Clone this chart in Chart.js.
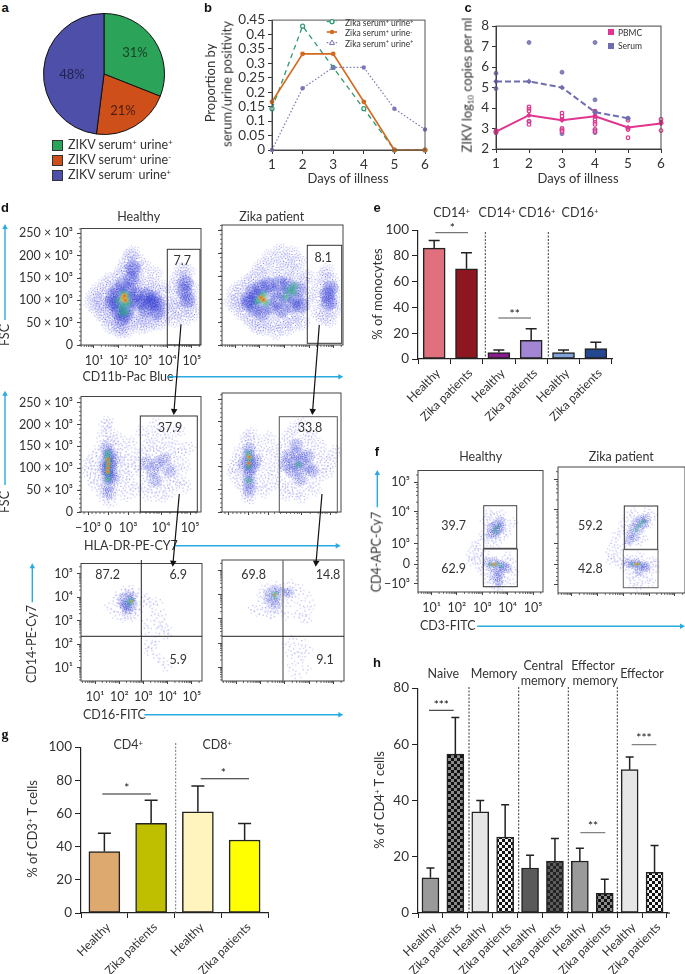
<!DOCTYPE html>
<html>
<head>
<meta charset="utf-8">
<script src="https://cdn.jsdelivr.net/npm/chart.js@4/dist/chart.umd.min.js"></script>
<style>
  html, body { margin: 0; padding: 0; background: #fff; }
  #page { position: relative; width: 685px; height: 974px; overflow: hidden; font-family: Lato, sans-serif; color: #333; }
  #page canvas { position: absolute; }
  #page svg { position: absolute; left: 0; top: 0; }
  .t { position: absolute; white-space: nowrap; line-height: 1; }
  .t sup { font-size: .62em; line-height: 0; vertical-align: baseline; position: relative; top: -.45em; }
  .t sub { font-size: .62em; line-height: 0; vertical-align: baseline; position: relative; top: .3em; }
  .swatch { position: absolute; width: 9px; height: 9px; border: 1px solid #333; }
</style>
</head>
<body>
<div id="page"></div>
<script>
// ---- data ----
// a
const pieLabels = ['ZIKV serum+ urine+', 'ZIKV serum+ urine-', 'ZIKV serum- urine+'];
const pieValues = [31, 21, 48];

// b
const days = [1, 2, 3, 4, 5, 6];
const propBoth = [0.143, 0.429, 0.286, 0.143, 0, 0];
const propSerum = [0.167, 0.333, 0.333, 0.167, 0, 0];
const propUrine = [0, 0.214, 0.286, 0.286, 0.143, 0.071];
const propTicks = [0, 0.05, 0.1, 0.15, 0.2, 0.25, 0.3, 0.35, 0.4, 0.45];

// c
const pbmcMean = [2.85, 3.65, 3.4, 3.6, 3.05, 3.25];
const serumMean = [5.3, 5.3, 5.0, 3.8, 3.5];
const pbmcDays = [1, 1, 2, 2, 2, 2, 2, 3, 3, 3, 3, 3, 3, 4, 4, 4, 4, 4, 4, 4, 5, 5, 5, 5, 6, 6, 6];
const pbmcRaw = [2.8, 2.9, 4.05, 3.95, 3.85, 3.35, 3.2, 3.75, 3.6, 3.45, 3.0, 2.9, 2.85, 3.85, 3.6, 3.45, 3.3, 3.2, 2.95, 2.85, 3.4, 3.0, 2.95, 2.55, 3.45, 3.3, 2.9];
const serumDays = [1, 1, 1, 2, 2, 3, 3, 3, 4, 4, 4, 4, 4, 5];
const serumRaw = [5.7, 4.95, 2.8, 7.2, 3.35, 5.75, 2.95, 2.75, 7.2, 4.4, 3.8, 2.95, 2.8, 3.5];

// e
const monoCats = ['Healthy', 'Zika patients', 'Healthy', 'Zika patients', 'Healthy', 'Zika patients'];
const monoValues = [86, 70, 5, 14.5, 5, 8];
const monoErrors = [92, 82.5, 7, 23.5, 7, 13];

// g
const cd3Cats = ['Healthy', 'Zika patients', 'Healthy', 'Zika patients'];
const cd3Values = [37, 54, 61, 44];
const cd3Errors = [48, 68, 76.5, 54];

// h
const cd4Cats = ['Healthy', 'Zika patients', 'Healthy', 'Zika patients', 'Healthy', 'Zika patients', 'Healthy', 'Zika patients', 'Healthy', 'Zika patients'];
const cd4Values = [12.5, 56.5, 36, 27, 16, 18.5, 18.5, 7, 51, 14.5];
const cd4Errors = [16, 69.5, 40, 38.5, 20.5, 26.5, 23, 12, 55.5, 24];

// flow axes (log decades, or biexponential display units where there is a 0)
const decadeTicks = [1, 2, 3, 4, 5];
const decadeLabels = ['10¹', '10²', '10³', '10⁴', '10⁵'];
const fscTicks = [0, 50, 100, 150, 200, 250];
const fscLabels = ['0', '50 × 10³', '100 × 10³', '150 × 10³', '200 × 10³', '250 × 10³'];
const hlaTicks = [-1, 0, 1, 2.65, 4.1];
const hlaLabels = ['−10³', '0', '10³', '10⁴', '10⁵'];
const hlaMinor = [-1.2, -0.8, -0.6, -0.4, -0.2, 0.2, 0.4, 0.6, 0.8, 1.3, 1.6, 1.9, 2.1, 2.3, 2.45, 2.55, 3.1, 3.5, 3.7, 3.85, 3.95, 4.4];
const cd4Ticks = [-1, 0, 1.05, 2.7, 4.23];
const cd4Labels = ['−10³', '0', '10³', '10⁴', '10⁵'];
const cd4Minor = [-0.8, -0.6, -0.4, -0.2, 0.2, 0.4, 0.6, 0.8, 1.5, 1.85, 2.1, 2.3, 2.45, 2.6, 3.2, 3.55, 3.75, 3.95, 4.1, 4.6];

// d, top row
const cd11bHealthySparse = [[0.9,95],[1.0,110],[1.1,80],[1.2,125],[1.25,100],[1.3,70],[1.35,90],[1.45,135],[1.5,60],[1.5,112],[1.6,82],[1.65,45],[1.7,145],[1.75,100],[1.8,62],[1.85,125],[1.9,38],[1.95,80],[2.0,155],[2.05,50],[2.1,30],[2.15,170],[2.2,42],[2.3,185],[2.35,35],[2.4,160],[2.45,200],[2.5,145],[2.5,48],[2.55,178],[2.6,205],[2.65,130],[2.7,165],[2.7,55],[2.75,190],[2.8,150],[2.85,40],[2.9,125],[2.95,70],[3.0,175],[3.05,60],[3.1,110],[3.15,45],[3.2,140],[3.3,85],[3.35,55],[3.4,125],[3.45,70],[3.5,160],[3.55,100],[3.6,50],[3.7,130],[3.75,80],[3.8,60],[3.9,115],[3.95,95],[4.1,70],[4.2,130],[4.25,90],[4.3,55],[4.4,150],[4.45,105],[4.5,75],[4.55,170],[4.6,130],[4.65,90],[4.7,150],[4.75,60],[4.8,115],[4.85,165],[4.9,85],[4.95,130],[5.0,100],[5.05,70]];
const cd11bHealthyDense = [[1.7,95],[1.8,110],[1.9,90],[2.0,75],[2.0,120],[2.1,60],[2.2,135],[2.3,65],[2.4,125],[2.4,80],[2.5,100],[2.55,150],[2.6,170],[2.7,115],[2.8,95],[3.0,95],[3.1,80],[3.2,110],[3.3,95],[3.45,105],[3.6,90],[3.55,75],[4.7,120],[4.8,100],[4.75,140]];
const cd11bHealthyHot = [[2.0,100],[2.1,85],[2.15,72],[2.2,115],[2.25,90],[2.35,110],[2.3,75],[2.4,95]];
const cd11bHealthyCore = [[2.2,105],[2.28,100],[2.25,110]];
const cd11bZikaSparse = [[0.85,95],[1.0,115],[1.05,80],[1.15,100],[1.25,125],[1.3,70],[1.4,90],[1.5,135],[1.55,60],[1.6,110],[1.7,145],[1.75,50],[1.8,85],[1.9,160],[1.95,40],[2.0,125],[2.1,175],[2.15,35],[2.25,60],[2.3,150],[2.4,190],[2.45,45],[2.5,130],[2.6,170],[2.65,30],[2.7,70],[2.8,205],[2.85,150],[2.9,50],[3.0,185],[3.05,35],[3.1,140],[3.2,170],[3.25,60],[3.3,200],[3.4,45],[3.45,155],[3.55,70],[3.6,180],[3.7,135],[3.75,50],[3.85,90],[3.9,150],[4.0,110],[4.35,70],[4.4,130],[4.45,100],[4.55,60],[4.6,150],[4.65,85],[4.7,120],[4.75,160],[4.8,55],[4.85,100],[4.9,140],[4.95,75],[5.0,115],[5.05,90]];
const cd11bZikaDense = [[1.5,100],[1.6,90],[1.7,115],[1.8,80],[1.9,105],[2.0,125],[2.1,70],[2.3,130],[2.4,85],[2.55,115],[2.7,95],[2.8,135],[2.9,75],[3.0,110],[3.15,130],[3.3,85],[3.45,100],[3.6,120],[3.65,85],[4.75,110],[4.8,90],[4.85,125]];
const cd11bZikaHot = [[1.9,95],[2.05,100],[2.15,110],[2.25,92],[3.2,120],[3.35,115],[3.4,128],[3.05,105]];
const cd11bZikaCore = [[2.05,103],[2.15,98]];

// d, middle row
const hlaHealthySparse = [[-1.0,95],[-0.9,110],[-0.8,75],[-0.7,125],[-0.6,60],[-0.5,100],[-0.4,140],[-0.35,85],[-0.3,50],[-0.25,170],[-0.2,115],[-0.15,35],[-0.1,195],[-0.05,155],[0,205],[0.05,180],[0.1,25],[0.15,160],[0.2,130],[0.25,45],[0.3,95],[0.35,150],[0.4,70],[0.5,120],[0.55,170],[0.6,55],[0.7,100],[0.8,140],[0.85,80],[0.9,40],[1.0,115],[1.1,65],[1.15,160],[1.25,95],[1.35,130],[1.45,50],[1.5,105],[1.7,185],[1.75,130],[1.8,60],[1.85,90],[1.95,150],[2.0,40],[2.05,115],[2.1,170],[2.2,75],[2.25,135],[2.3,200],[2.35,55],[2.4,100],[2.5,155],[2.55,85],[2.6,35],[2.65,120],[2.7,180],[2.8,65],[2.85,140],[2.9,100],[3.0,45],[3.05,165],[3.1,85],[3.2,125],[3.3,60],[3.35,150],[3.45,100],[3.5,185],[3.6,75],[3.65,130],[3.8,105],[3.9,60],[4.0,145]];
const hlaHealthyDense = [[0,45],[0,60],[0.05,75],[-0.05,85],[0,95],[0.05,105],[-0.05,115],[0,125],[0.05,135],[-0.05,145],[0.1,90],[0.15,110],[-0.15,100],[0.25,120],[0.3,80],[1.9,110],[2.2,95],[2.5,110],[2.8,120],[3.1,95],[2.4,70]];
const hlaHealthyHot = [[0,90],[0,105],[0.02,115],[-0.02,125],[0,75],[0,135]];
const hlaHealthyCore = [[0,100],[0.02,110],[0,120],[-0.02,92]];
const hlaZikaSparse = [[-0.8,100],[-0.7,85],[-0.6,115],[-0.5,70],[-0.45,130],[-0.3,55],[-0.25,95],[-0.2,150],[-0.1,40],[-0.05,165],[0,30],[0.1,175],[0.15,55],[0.25,130],[0.3,85],[0.4,155],[0.5,65],[0.6,110],[0.7,45],[0.8,135],[0.9,85],[1.0,165],[1.1,60],[1.2,110],[1.3,140],[1.4,85],[1.6,125],[1.65,65],[1.75,150],[1.8,40],[1.9,100],[2.0,170],[2.05,55],[2.15,130],[2.2,85],[2.3,185],[2.35,40],[2.45,150],[2.5,70],[2.6,195],[2.7,35],[2.75,125],[2.85,165],[2.95,60],[3.05,140],[3.1,90],[3.2,170],[3.3,50],[3.4,120],[3.5,75],[3.55,150],[3.7,100],[3.85,125],[4.0,90],[4.2,110],[4.4,135]];
const hlaZikaDense = [[0,50],[0.05,65],[-0.05,80],[0.05,95],[0,110],[-0.05,125],[0.05,140],[0.2,100],[0.3,115],[-0.2,105],[1.8,105],[2.0,125],[2.15,90],[2.3,110],[2.45,130],[2.5,95],[2.6,75],[2.7,115],[2.9,100],[3.0,125],[3.2,90],[2.35,150]];
const hlaZikaHot = [[0,70],[0,100],[0.03,118],[-0.02,130],[2.5,105]];
const hlaZikaCore = [[0,108],[0.02,122]];

// d, bottom row
const cd16HealthySparse = [[1.55,3.65],[1.8,3.3],[1.85,3.8],[1.95,4.1],[2.0,3.45],[2.05,3.15],[2.1,4.0],[2.15,3.6],[2.2,3.3],[2.25,4.25],[2.3,3.15],[2.35,3.45],[2.45,4.3],[2.5,3.2],[2.6,3.35],[2.7,4.2],[2.75,3.4],[2.85,3.6],[3.0,3.9],[3.15,4.0],[3.2,3.75],[3.4,3.6],[3.5,3.2],[3.55,2.8],[3.6,3.85],[3.7,2.55],[3.75,3.3],[3.85,2.9],[3.95,2.6],[3.1,2.95],[3.2,2.6],[3.15,1.95],[3.25,1.7],[3.4,1.9],[3.5,2.2],[3.6,1.45],[3.75,1.25],[3.95,1.05],[4.0,2.35]];
const cd16HealthyDense = [[2.1,3.8],[2.2,4.0],[2.25,3.55],[2.3,3.7],[2.35,3.4],[2.4,3.95],[2.45,3.6],[2.5,3.8],[2.55,4.05],[2.6,3.65],[2.35,4.1],[2.2,3.7]];
const cd16HealthyHot = [[2.35,3.8],[2.45,3.9],[2.42,3.7],[2.55,3.85]];
const cd16HealthyCore = [[2.5,3.82]];
const cd16ZikaSparse = [[1.65,3.45],[1.9,3.3],[2.0,3.7],[2.05,4.1],[2.15,3.25],[2.2,3.55],[2.25,4.3],[2.35,3.15],[2.4,3.5],[2.55,3.2],[2.65,3.4],[2.7,4.4],[2.8,3.3],[2.95,4.35],[3.05,3.15],[3.1,4.2],[3.2,3.7],[3.3,4.4],[3.4,4.0],[3.5,3.2],[3.55,4.25],[3.65,3.65],[3.75,3.05],[3.85,4.0],[3.9,3.35],[3.95,2.95],[4.05,3.6],[3.1,1.9],[3.2,1.5],[3.25,1.05],[3.35,2.1],[3.45,1.7],[3.5,0.7],[3.6,1.25],[3.7,2.0],[3.75,1.5],[3.85,0.9],[3.95,1.75]];
const cd16ZikaDense = [[2.25,3.9],[2.35,4.1],[2.4,3.65],[2.5,3.85],[2.55,4.2],[2.6,3.55],[2.65,3.95],[2.7,4.15],[2.75,3.75],[2.9,4.1],[3.05,4.05],[3.2,4.1]];
const cd16ZikaHot = [[2.5,4.02],[2.6,3.9],[2.65,4.08]];
const cd16ZikaCore = [[2.58,4.0]];

// f
const cd3HealthySparse = [[2.5,0.5],[2.6,0.15],[2.65,0.85],[2.75,0.35],[2.8,1.0],[2.85,-0.1],[2.9,0.65],[3.0,0.2],[3.0,1.5],[3.05,-0.35],[3.1,0.45],[3.1,2.3],[3.15,1.3],[3.2,1.9],[3.25,-0.7],[3.25,2.6],[3.3,1.15],[3.3,-1.05],[3.35,2.2],[3.4,-0.5],[3.45,1.4],[3.5,-1.15],[3.5,2.5],[3.6,-0.85],[3.6,1.2],[3.65,-0.4],[3.7,2.6],[3.75,-1.1],[3.8,1.4],[3.85,2.2],[3.9,-0.75],[3.95,0.4],[4.0,1.7],[4.0,-0.2],[4.1,-0.9],[4.15,0.15],[4.2,2.1],[4.25,-0.35]];
const cd3HealthyDense = [[3.3,1.6],[3.4,1.9],[3.5,1.55],[3.55,2.1],[3.65,1.75],[3.7,2.2],[3.75,1.9],[3.2,0.05],[3.35,-0.15],[3.5,0.15],[3.6,-0.3],[3.7,0.05],[3.85,-0.1],[3.95,-0.2],[3.55,-0.65],[3.7,-0.5],[3.65,-0.85]];
const cd3HealthyHot = [[3.5,1.8],[3.6,1.95],[3.55,1.65],[3.3,0],[3.45,-0.05],[3.6,0.02],[3.75,-0.1]];
const cd3HealthyCore = [[3.4,0],[3.52,0.02]];
const cd3ZikaSparse = [[2.45,0.6],[2.55,0.2],[2.6,1.0],[2.7,0.4],[2.75,1.4],[2.8,0.05],[2.85,0.75],[2.95,1.65],[3.0,0.25],[3.05,2.05],[3.05,-0.2],[3.15,1.05],[3.2,2.4],[3.25,-0.6],[3.3,0.3],[3.35,-0.95],[3.4,2.6],[3.5,-0.5],[3.55,1.1],[3.6,-1.05],[3.65,0.35],[3.75,-0.75],[3.8,1.3],[3.9,2.6],[3.95,-0.45],[4.0,2.0],[4.05,0.2],[4.1,-0.85],[4.15,2.35],[4.2,-0.2],[4.25,0.05]];
const cd3ZikaDense = [[3.2,1.2],[3.3,1.5],[3.35,1.8],[3.45,1.4],[3.5,2.05],[3.6,1.75],[3.7,2.25],[3.8,1.95],[3.85,2.3],[3.2,0.05],[3.35,-0.05],[3.5,0.1],[3.65,-0.1],[3.8,-0.05],[3.9,-0.15],[3.6,-0.4]];
const cd3ZikaHot = [[3.5,1.7],[3.6,1.9],[3.7,2.05],[3.8,2.15],[3.35,0],[3.6,0]];
const cd3ZikaCore = [[3.48,0],[3.55,0.02]];

// ---- helpers ----
const FONT = 'Lato, sans-serif';
const page = document.getElementById('page');
const INK = '#333';

function txt(html, x, y, opts) {
  opts = opts || {};
  const el = document.createElement('div');
  el.className = 't';
  el.innerHTML = html;
  el.style.left = x + 'px';
  el.style.top = y + 'px';
  el.style.fontSize = (opts.size || 12.5) + 'px';
  if (opts.color) el.style.color = opts.color;
  if (opts.weight) el.style.fontWeight = opts.weight;
  if (opts.family) el.style.fontFamily = opts.family;
  const dx = opts.left ? '0' : '-50%';
  el.style.transform = `translate(${dx},-50%)` + (opts.rot ? ` rotate(${opts.rot}deg)` : '');
  page.appendChild(el);
}

function newCanvas(left, top, w, h) {
  const c = document.createElement('canvas');
  c.width = w;
  c.height = h;
  c.style.left = left + 'px';
  c.style.top = top + 'px';
  c.style.width = w + 'px';
  c.style.height = h + 'px';
  page.appendChild(c);
  return c;
}

function toXY(xs, ys) {
  return ys.map((y, i) => ({ x: xs[i], y: y }));
}
function pairs(list) {
  return list.map(p => ({ x: p[0], y: p[1] }));
}

// fixed plot box: canvas is grown around it, axes are forced to the pad size
function plotChart(box, pad, config) {
  const c = newCanvas(box.x - pad.l, box.y - pad.t, box.w + pad.l + pad.r, box.h + pad.t + pad.b);
  config.options = config.options || {};
  config.options.responsive = false;
  config.options.animation = false;
  config.options.layout = { padding: { top: pad.t, right: pad.r, left: 0, bottom: 0 } };
  config.options.scales.x.afterFit = s => { s.height = pad.b; };
  config.options.scales.y.afterFit = s => { s.width = pad.l; };
  // Chart.js paints the first dataset last, we list them bottom to top
  config.data.datasets.reverse();
  return new Chart(c, config);
}

function fixedTicks(values) {
  return scale => { scale.ticks = values.map(v => ({ value: v })); };
}

const framePlugin = color => ({
  id: 'frame',
  afterDraw(chart) {
    const a = chart.chartArea, g = chart.ctx;
    g.save();
    g.strokeStyle = color;
    g.lineWidth = 1;
    g.strokeRect(a.left, a.top, a.right - a.left, a.bottom - a.top);
    g.restore();
  }
});

const errorPlugin = (values, errors, cap) => ({
  id: 'errs',
  afterDatasetsDraw(chart) {
    const g = chart.ctx, sx = chart.scales.x, sy = chart.scales.y;
    g.save();
    g.strokeStyle = '#222';
    g.lineWidth = 1.5;
    values.forEach((v, i) => {
      const x = sx.getPixelForValue(i), y0 = sy.getPixelForValue(v), y1 = sy.getPixelForValue(errors[i]);
      g.beginPath();
      g.moveTo(x, y0); g.lineTo(x, y1);
      g.moveTo(x - cap / 2, y1); g.lineTo(x + cap / 2, y1);
      g.stroke();
    });
    g.restore();
  }
});

function lineAxis(min, max, ticks, labelOf, size) {
  return {
    type: 'linear', min: min, max: max,
    afterBuildTicks: fixedTicks(ticks),
    grid: { drawOnChartArea: false, tickLength: 4, color: INK },
    border: { color: INK },
    ticks: { autoSkip: false, maxRotation: 0, color: INK, padding: 3, font: { family: FONT, size: size || 13.5 }, callback: labelOf }
  };
}

function barChart(box, cats, values, errors, fills, yMax, yStep, cap, thick) {
  plotChart(box, { l: 45, t: 10, r: 40, b: 84 }, {
    type: 'bar',
    data: { labels: cats, datasets: [{ data: values, backgroundColor: fills, borderColor: '#222', borderWidth: 1.5, borderSkipped: false, barThickness: thick }] },
    options: {
      plugins: { legend: { display: false }, tooltip: { enabled: false } },
      scales: {
        x: {
          grid: { drawOnChartArea: false, tickLength: 5, color: '#222' }, border: { color: '#222', width: 1.2 },
          ticks: { minRotation: 45, maxRotation: 45, autoSkip: false, color: INK, padding: 2, labelOffset: 4, font: { family: FONT, size: 12 } }
        },
        y: {
          min: 0, max: yMax,
          grid: { drawOnChartArea: false, tickLength: 6, color: '#222' }, border: { color: '#222', width: 1.2 },
          ticks: { stepSize: yStep, color: INK, padding: 3, font: { family: FONT, size: 13.5 } }
        }
      }
    },
    plugins: [errorPlugin(values, errors, cap)]
  });
}

// small marks along a flow axis
function minorTicks(scale, values, horizontal) {
  const g = scale.ctx;
  g.save();
  g.strokeStyle = '#444';
  g.lineWidth = 0.8;
  values.forEach(v => {
    if (v < scale.min || v > scale.max) return;
    const p = scale.getPixelForValue(v);
    g.beginPath();
    if (horizontal) { g.moveTo(p, scale.top); g.lineTo(p, scale.top + 2); }
    else { g.moveTo(scale.right, p); g.lineTo(scale.right - 2, p); }
    g.stroke();
  });
  g.restore();
}
const logMinor = [];
[0, 1, 2, 3, 4, 5].forEach(d => [2, 3, 4, 5, 6, 7, 8, 9].forEach(m => logMinor.push(d + Math.log10(m))));
const fscMinor = [];
for (let v = 0; v <= 260; v += 10) fscMinor.push(v);

// marker textures for the density plots: a fixed speckle of 1px dots around the point
function speckle(r, count, rgb, alpha) {
  const c = document.createElement('canvas');
  c.width = c.height = 2 * r + 2;
  const g = c.getContext('2d');
  for (let i = 1; i <= count; i++) {
    const rho = r * Math.sqrt(i / count), th = i * 2.39996;
    g.fillStyle = `rgba(${rgb},${alpha * (1 - 0.6 * rho / r)})`;
    g.fillRect(r + 1 + rho * Math.cos(th), r + 1 + rho * Math.sin(th), 1, 1);
  }
  return c;
}
function glow(r, stops) {
  const c = document.createElement('canvas');
  c.width = c.height = 2 * r + 2;
  const g = c.getContext('2d');
  const grad = g.createRadialGradient(r + 1, r + 1, 0, r + 1, r + 1, r);
  stops.forEach((s, i) => grad.addColorStop(i / (stops.length - 1), s));
  g.fillStyle = grad;
  g.fillRect(0, 0, c.width, c.height);
  return c;
}

function flowChart(o) {
  const spin = ctx => ctx.dataIndex * 137;
  const layer = (list, sprite) => ({ data: pairs(list), pointStyle: sprite, pointRadius: 3, pointRotation: spin, pointBorderWidth: 0 });
  const sets = [
    layer(o.sparse, speckle(o.puff, o.puffDots, '60,60,225', 0.9)),
    layer(o.dense, speckle(o.puff, o.puffDots * 3, '30,40,205', 1)),
    layer(o.hot, glow(Math.max(o.puff - 2, 3), ['rgba(60,190,90,0.6)', 'rgba(40,170,140,0.35)', 'rgba(50,120,200,0)'])),
    layer(o.core, glow(Math.max(o.puff - 4, 2), ['rgba(235,60,25,0.95)', 'rgba(245,170,40,0.65)', 'rgba(120,200,80,0)']))
  ];
  plotChart(o.box, { l: 70, t: 8, r: 12, b: 26 }, {
    type: 'scatter',
    data: { datasets: sets },
    options: {
      plugins: { legend: { display: false }, tooltip: { enabled: false } },
      scales: {
        x: {
          type: 'linear', min: o.xMin, max: o.xMax, afterBuildTicks: fixedTicks(o.xTicks),
          grid: { drawOnChartArea: false, tickLength: 3, color: '#444' }, border: { display: false },
          ticks: { display: !!o.showX, autoSkip: false, maxRotation: 0, color: INK, padding: 5, font: { family: FONT, size: 12.5 },
            callback: v => o.xLabels[o.xTicks.indexOf(v)] }
        },
        y: {
          type: 'linear', min: o.yMin, max: o.yMax, afterBuildTicks: fixedTicks(o.yTicks),
          grid: { drawOnChartArea: false, tickLength: 4, color: '#444' }, border: { display: false },
          ticks: { display: !!o.showY, autoSkip: false, color: INK, padding: 4, font: { family: FONT, size: 12.5 },
            callback: v => o.yLabels[o.yTicks.indexOf(v)] }
        }
      }
    },
    plugins: [framePlugin('#444'), {
      id: 'minor',
      afterDraw(chart) {
        if (o.xMinor) minorTicks(chart.scales.x, o.xMinor, true);
        if (o.yMinor) minorTicks(chart.scales.y, o.yMinor, false);
      }
    }]
  });
}

function checks(a, b, size) {
  const c = document.createElement('canvas');
  c.width = c.height = size * 2;
  const g = c.getContext('2d');
  g.fillStyle = a; g.fillRect(0, 0, size * 2, size * 2);
  g.fillStyle = b; g.fillRect(0, 0, size, size); g.fillRect(size, size, size, size);
  return g.createPattern(c, 'repeat');
}

// ---- a ----
new Chart(newCanvas(43, 13, 122, 122), {
  type: 'pie',
  data: { labels: pieLabels, datasets: [{ data: pieValues, backgroundColor: ['#2BA358', '#CF4F1A', '#4D4FA8'], borderColor: '#111', borderWidth: 1 }] },
  options: { responsive: false, animation: false, plugins: { legend: { display: false }, tooltip: { enabled: false } } }
});
txt('31%', 135, 52, { size: 13, color: '#17432a' });
txt('21%', 123, 110, { size: 13, color: '#4a1d0c' });
txt('48%', 72, 74, { size: 13, color: '#22234f' });
[['#2BA358', 'ZIKV serum<sup>+</sup> urine<sup>+</sup>', 144.5], ['#CF4F1A', 'ZIKV serum<sup>+</sup> urine<sup>-</sup>', 159.5], ['#4D4FA8', 'ZIKV serum<sup>-</sup> urine<sup>+</sup>', 174.5]].forEach(r => {
  const s = document.createElement('div');
  s.className = 'swatch';
  s.style.left = '52px';
  s.style.top = (r[2] - 5) + 'px';
  s.style.background = r[0];
  page.appendChild(s);
  txt(r[1], 68, r[2], { left: true, size: 12.5 });
});

// ---- b ----
plotChart({ x: 272, y: 17, w: 153, h: 133 }, { l: 44, t: 8, r: 8, b: 24 }, {
  type: 'scatter',
  data: { datasets: [
    { data: toXY(days, propBoth), showLine: true, clip: false, borderColor: '#2E9B73', borderWidth: 1.3, borderDash: [5, 4], pointRadius: 2, pointBackgroundColor: '#fff', pointBorderColor: '#2E9B73', pointBorderWidth: 1.2 },
    { data: toXY(days, propUrine), showLine: true, clip: false, borderColor: '#7B77B8', borderWidth: 1.2, borderDash: [1.5, 2], pointRadius: 2.2, pointBackgroundColor: '#7B77B8', pointBorderWidth: 0 },
    { data: toXY(days, propSerum), showLine: true, clip: false, borderColor: '#D2691E', borderWidth: 1.6, pointRadius: 2.4, pointBackgroundColor: '#D2691E', pointBorderWidth: 0 }
  ] },
  options: {
    plugins: { legend: { display: false }, tooltip: { enabled: false } },
    scales: {
      x: lineAxis(1, 6, days, v => v),
      y: lineAxis(0, 0.45, propTicks, v => String(v))
    }
  },
  plugins: [framePlugin('#555')]
});
txt('Proportion by', 210, 83, { rot: -90, size: 13 });
txt('serum/urine positivity', 226.5, 84, { rot: -90, size: 13 });
txt('Days of illness', 348, 178, { size: 13 });
txt('Zika serum<sup>+</sup> urine<sup>+</sup>', 345, 23, { left: true, size: 8.5 });
txt('Zika serum<sup>+</sup> urine<sup>-</sup>', 345, 33, { left: true, size: 8.5 });
txt('Zika serum<sup>+</sup> urine<sup>+</sup>', 345, 43.5, { left: true, size: 8.5 });

// ---- c ----
plotChart({ x: 496, y: 23, w: 165, h: 126 }, { l: 30, t: 8, r: 10, b: 24 }, {
  type: 'scatter',
  data: { datasets: [
    { data: toXY(serumDays, serumRaw), clip: false, pointRadius: 2, pointBackgroundColor: 'rgba(111,109,176,0.85)', pointBorderColor: '#6F6DB0', pointBorderWidth: 0.8 },
    { data: toXY(pbmcDays, pbmcRaw), clip: false, pointRadius: 1.8, pointBackgroundColor: 'rgba(255,255,255,0.4)', pointBorderColor: '#E0348F', pointBorderWidth: 1.2 },
    { data: toXY(days, serumMean), showLine: true, clip: false, borderColor: '#6F6DB0', borderWidth: 2, borderDash: [6, 3], pointStyle: 'rectRot', pointRadius: 2.8, pointBackgroundColor: '#6F6DB0', pointBorderWidth: 0 },
    { data: toXY(days, pbmcMean), showLine: true, clip: false, borderColor: '#E0348F', borderWidth: 2, pointStyle: 'rectRot', pointRadius: 2.8, pointBackgroundColor: '#E0348F', pointBorderWidth: 0 }
  ] },
  options: {
    plugins: { legend: { display: false }, tooltip: { enabled: false } },
    scales: {
      x: lineAxis(1, 6, days, v => v),
      y: lineAxis(2, 8, [2, 3, 4, 5, 6, 7, 8], v => v)
    }
  },
  plugins: [framePlugin('#444')]
});
txt('ZIKV log<sub>10</sub> copies per ml', 467, 84.5, { rot: -90, size: 12.8 });
txt('Days of illness', 578, 178, { size: 13 });
txt('PBMC', 618, 33, { left: true, size: 8.5 });
txt('Serum', 618, 46, { left: true, size: 8.5 });

// ---- d ----
const panelY1 = { yMin: 0, yMax: 261, yTicks: fscTicks, yLabels: fscLabels, yMinor: fscMinor };
const panelY2 = { yMin: 0, yMax: 264, yTicks: fscTicks, yLabels: fscLabels, yMinor: fscMinor };
const xDec1 = { xMin: 0.47, xMax: 5.37, xTicks: decadeTicks, xLabels: decadeLabels, xMinor: logMinor };
const xHla = { xMin: -1.35, xMax: 4.65, xTicks: hlaTicks, xLabels: hlaLabels, xMinor: hlaMinor };
const row3 = { xMin: 0.42, xMax: 5.42, xTicks: decadeTicks, xLabels: decadeLabels, xMinor: logMinor, yMin: 0.43, yMax: 5.44, yTicks: decadeTicks, yLabels: decadeLabels, yMinor: logMinor };

flowChart(Object.assign({ box: { x: 81, y: 225, w: 120, h: 120 }, showX: true, showY: true, puff: 8, puffDots: 30, sparse: cd11bHealthySparse, dense: cd11bHealthyDense, hot: cd11bHealthyHot, core: cd11bHealthyCore }, panelY1, xDec1));
flowChart(Object.assign({ box: { x: 222, y: 225, w: 121, h: 120 }, puff: 8, puffDots: 30, sparse: cd11bZikaSparse, dense: cd11bZikaDense, hot: cd11bZikaHot, core: cd11bZikaCore }, panelY1, xDec1));
flowChart(Object.assign({ box: { x: 81, y: 393, w: 120, h: 119 }, showX: true, showY: true, puff: 7, puffDots: 14, sparse: hlaHealthySparse, dense: hlaHealthyDense, hot: hlaHealthyHot, core: hlaHealthyCore }, panelY2, xHla));
flowChart(Object.assign({ box: { x: 222, y: 393, w: 119, h: 119 }, puff: 7, puffDots: 16, sparse: hlaZikaSparse, dense: hlaZikaDense, hot: hlaZikaHot, core: hlaZikaCore }, panelY2, xHla));
flowChart(Object.assign({ box: { x: 81, y: 560, w: 121, h: 121 }, showX: true, showY: true, puff: 5, puffDots: 6, sparse: cd16HealthySparse, dense: cd16HealthyDense, hot: cd16HealthyHot, core: cd16HealthyCore }, row3));
flowChart(Object.assign({ box: { x: 222, y: 560, w: 122, h: 121 }, puff: 5, puffDots: 6, sparse: cd16ZikaSparse, dense: cd16ZikaDense, hot: cd16ZikaHot, core: cd16ZikaCore }, row3));

txt('Healthy', 138.7, 216.5);
txt('Zika patient', 271.7, 216.5);
[['7.7', 182.3, 261], ['8.1', 323.3, 258.3], ['37.9', 170, 428], ['33.8', 310, 428], ['87.2', 107.7, 575.3], ['6.9', 178.3, 575.3], ['5.9', 178.3, 660.3], ['69.8', 253.7, 575.3], ['14.8', 328, 575.3], ['9.1', 325, 660.3]].forEach(r => txt(r[0], r[1], r[2], { size: 12.5 }));
txt('CD11b-Pac Blue', 82.5, 376.7, { left: true });
txt('HLA-DR-PE-CY7', 84, 546, { left: true });
txt('CD16-FITC', 83, 714.7, { left: true });
txt('FSC', 5, 335, { rot: -90 });
txt('FSC', 5, 501.7, { rot: -90 });
txt('CD14-PE-Cy7', 32, 644, { rot: -90 });

// ---- e ----
barChart({ x: 418, y: 229, w: 194, h: 130 }, monoCats, monoValues, monoErrors, ['#E0707D', '#8E1620', '#8B1A8F', '#A386D3', '#7FA3DA', '#23488F'], 100, 20, 11, 22);
txt('CD14<sup>+</sup>', 451.7, 213);
txt('CD14<sup>+</sup> CD16<sup>+</sup>', 517, 213);
txt('CD16<sup>+</sup>', 580, 213);
txt('% of monocytes', 376.7, 294, { rot: -90, size: 13 });
txt('*', 452.3, 228, { size: 12, color: '#111' });
txt('**', 514.7, 314, { size: 12, color: '#111' });

// ---- f ----
const flowF = { xMin: 0.47, xMax: 5.39, xTicks: decadeTicks, xLabels: decadeLabels, xMinor: logMinor, yMin: -1.42, yMax: 4.83, yTicks: cd4Ticks, yLabels: cd4Labels, yMinor: cd4Minor };
flowChart(Object.assign({ box: { x: 418, y: 467, w: 125, h: 125 }, showX: true, showY: true, puff: 5, puffDots: 8, sparse: cd3HealthySparse, dense: cd3HealthyDense, hot: cd3HealthyHot, core: cd3HealthyCore }, flowF));
flowChart(Object.assign({ box: { x: 558, y: 467, w: 127, h: 126 }, puff: 5, puffDots: 8, sparse: cd3ZikaSparse, dense: cd3ZikaDense, hot: cd3ZikaHot, core: cd3ZikaCore }, flowF));
txt('Healthy', 480.7, 456.7);
txt('Zika patient', 621.3, 456.7);
[['39.7', 453.7, 525.7], ['62.9', 453.7, 569.3], ['59.2', 590.3, 525.7], ['42.8', 590.3, 569.3]].forEach(r => txt(r[0], r[1], r[2], { size: 12.5 }));
txt('CD4-APC-Cy7', 376.7, 551.7, { rot: -90 });
txt('CD3-FITC', 420, 626.3, { left: true });

// ---- g ----
barChart({ x: 81, y: 746, w: 187, h: 167 }, cd3Cats, cd3Values, cd3Errors, ['#DDA96E', '#BFBF00', '#FFF4BE', '#FFFF00'], 100, 20, 13, 31);
txt('CD4<sup>+</sup>', 128.3, 745);
txt('CD8<sup>+</sup>', 217.3, 745);
txt('% of CD3<sup>+</sup> T cells', 32, 829, { rot: -90, size: 13 });
txt('*', 126.7, 788, { size: 12, color: '#111' });
txt('*', 223.3, 772.5, { size: 12, color: '#111' });

// ---- h ----
const bwDark = checks('#111', '#8a8a8a', 3);
const bw = checks('#111', '#f4f4f4', 3);
const bwDeep = checks('#222', '#5c5c5c', 3);
barChart({ x: 418, y: 687, w: 249, h: 226 }, cd4Cats, cd4Values, cd4Errors, ['#9A9A9A', bwDark, '#E6E6E6', bw, '#5A5A5A', bwDeep, '#9A9A9A', bwDark, '#E6E6E6', bw], 80, 20, 8, 17);
txt('Naive', 443.3, 674);
txt('Memory', 494, 674);
txt('Central', 543.3, 666);
txt('memory', 543.3, 681.3);
txt('Effector', 593, 666);
txt('memory', 595, 681.3);
txt('Effector', 642, 674);
txt('% of CD4<sup>+</sup> T cells', 379, 800, { rot: -90, size: 13 });
txt('***', 441.3, 705, { size: 12, color: '#111' });
txt('**', 593, 826, { size: 12, color: '#111' });
txt('***', 644, 738, { size: 12, color: '#111' });

// panel letters
[['a', 5, 7], ['b', 208, 7], ['c', 468, 7], ['d', 5, 207], ['e', 377, 207], ['f', 377, 451], ['h', 377, 662]].forEach(r => {
  txt(r[0], r[1], r[2], { size: 13, weight: 700, color: '#111', family: 'Liberation Sans' });
});
txt('g', 5, 735, { size: 14, weight: 700, color: '#111', family: 'Liberation Serif' });

// ---- overlay lines, gates and arrows ----
const NS = 'http://www.w3.org/2000/svg';
const svg = document.createElementNS(NS, 'svg');
svg.setAttribute('width', 685);
svg.setAttribute('height', 974);
page.appendChild(svg);

function add(name, attrs) {
  const el = document.createElementNS(NS, name);
  Object.keys(attrs).forEach(k => el.setAttribute(k, attrs[k]));
  svg.appendChild(el);
}
function line(x1, y1, x2, y2, color, width, dash) {
  add('line', { x1, y1, x2, y2, stroke: color || '#222', 'stroke-width': width || 1, 'stroke-dasharray': dash || 'none' });
}
function arrow(x1, y1, x2, y2, color, width, head) {
  const a = Math.atan2(y2 - y1, x2 - x1), h = head || 5;
  line(x1, y1, x2 - Math.cos(a) * h * 0.8, y2 - Math.sin(a) * h * 0.8, color, width);
  const p = [[x2, y2], [x2 - h * Math.cos(a) - h * 0.55 * Math.sin(a), y2 - h * Math.sin(a) + h * 0.55 * Math.cos(a)], [x2 - h * Math.cos(a) + h * 0.55 * Math.sin(a), y2 - h * Math.sin(a) - h * 0.55 * Math.cos(a)]];
  add('polygon', { points: p.map(q => q.join(',')).join(' '), fill: color });
}
function gate(x1, y1, x2, y2, color) {
  add('rect', { x: x1, y: y1, width: x2 - x1, height: y2 - y1, fill: 'none', stroke: color || '#333', 'stroke-width': 1 });
}

const BLUE = '#29ABE2';
arrow(5, 320, 5, 224, BLUE, 1.4);
arrow(167, 376.7, 343.3, 376.7, BLUE, 1.4);
arrow(5, 485, 5, 390.7, BLUE, 1.4);
arrow(175, 545.7, 340.7, 545.7, BLUE, 1.4);
arrow(32.3, 602.3, 32.3, 563.3, BLUE, 1.4);
arrow(144.3, 714.7, 343.3, 714.7, BLUE, 1.4);
arrow(377.3, 507.3, 377.3, 470, BLUE, 1.4);
arrow(477.3, 626.3, 685, 626.3, BLUE, 1.4);

gate(167.3, 249.3, 200, 345);
gate(307.3, 245.3, 341.7, 343.3);
gate(140.3, 416, 197.3, 512);
gate(279.3, 416.7, 337.3, 512.5, '#555');
line(141.3, 560, 141.3, 681);
line(81, 636.3, 202, 636.3);
line(283, 560, 283, 681, '#777', 1.4);
line(222, 636.3, 344, 636.3);
gate(483.7, 505.7, 516.7, 548.3, '#444');
gate(483.3, 549, 517.3, 586.7);
gate(624.3, 506, 657.7, 549.3);
gate(623.3, 549.7, 658, 587.7, '#666');

arrow(181, 324.3, 173.7, 415, '#111', 1.2, 6);
arrow(319.3, 325, 312.3, 415, '#111', 1.2, 6);
arrow(179.3, 494, 172.7, 566.7, '#111', 1.2, 6);
arrow(322, 494, 315.7, 566.7, '#111', 1.2, 6);

// e
line(485.3, 232, 485.3, 359, '#222', 0.9, '2 1.5');
line(548.3, 232, 548.3, 359, '#222', 0.9, '2 1.5');
line(435.3, 232.7, 468, 232.7, '#555', 1);
line(498.3, 318, 531, 318, '#555', 1);
// g
line(175.7, 743, 175.7, 913, '#777', 1, '2 1.5');
line(102.3, 794, 151, 794, '#222', 1.1);
line(200.7, 778.7, 249, 778.7, '#222', 1.1);
// h
[469, 518.7, 568.3, 617.3].forEach(x => line(x, 687, x, 913, '#222', 0.9, '2 1.5'));
line(429, 710.3, 453.7, 710.3, '#222', 1);
line(580.3, 832.7, 605.3, 832.7, '#666', 1);
line(631.7, 744.7, 656.3, 744.7, '#666', 1);
line(667, 913, 670, 913, '#222', 1.2);

// b legend samples
line(326.7, 21.7, 337, 21.7, '#2E9B73', 1.3, '3 2');
add('circle', { cx: 332, cy: 21.7, r: 2, fill: '#fff', stroke: '#2E9B73', 'stroke-width': 1.2 });
line(326.7, 32, 337, 32, '#D2691E', 1.6);
add('circle', { cx: 332, cy: 32, r: 2.2, fill: '#D2691E' });
line(326.7, 42.7, 337, 42.7, '#7B77B8', 1.2, '1.5 1.5');
add('polygon', { points: '332,40 334.5,44.5 329.5,44.5', fill: '#fff', stroke: '#7B77B8', 'stroke-width': 1 });
// c legend samples
add('rect', { x: 608, y: 29, width: 6, height: 6, fill: '#E0348F' });
add('rect', { x: 608, y: 43, width: 6, height: 6, fill: '#6F6DB0' });
</script>
</body>
</html>
